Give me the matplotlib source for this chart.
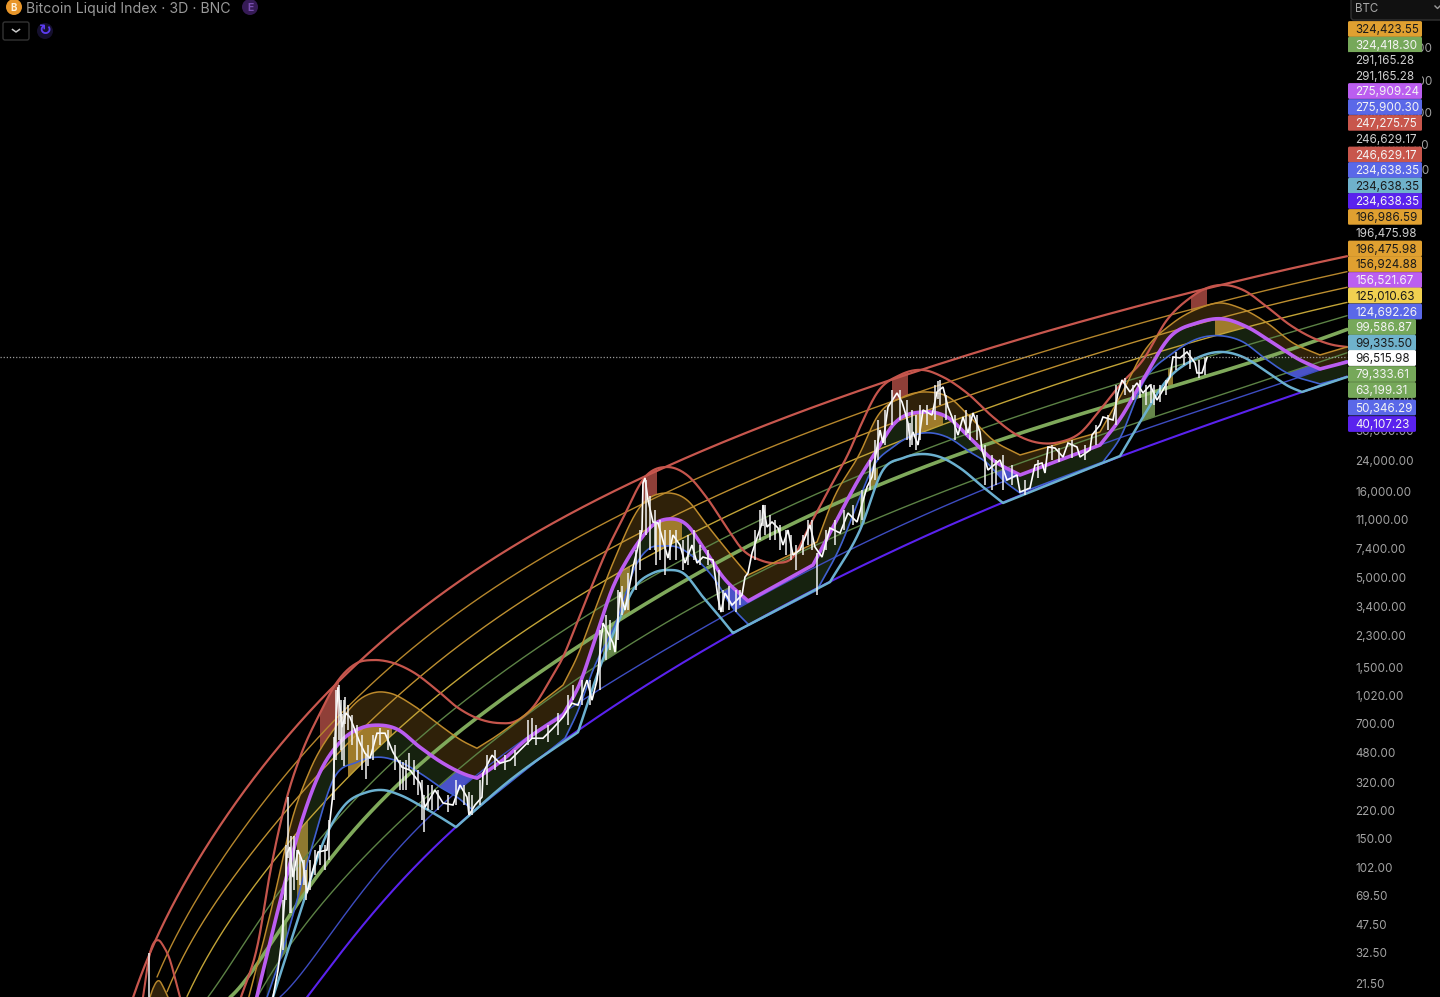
import numpy as np
import matplotlib
matplotlib.use("Agg")
import matplotlib.pyplot as plt
from matplotlib.patches import FancyBboxPatch, Circle
from matplotlib.ticker import NullLocator

plt.rcParams['font.family'] = ['Inter', 'DejaVu Sans']

# ---------- data: x is bar index on the chart, y is price ----------
top_x = [133,152,190,225,260,300,337,380,450,500,560,647,703,780,860,950,1020,1100,1197,1287,1347]
top_p = [17.8,33.5,98.2,192.5,366,708,1229,2163,4410,6690,10857,19350,27820,41640,63170,93300,125400,166400,229700,313000,382900]
or1_x = [157,185,213,253,300,357,420,450,500,560,612,700,780,860,950,1017,1100,1200,1280,1347]
or1_p = [23.3,50.1,98.2,192.5,448,1004,2163,2946,4410,7351,10857,19350,31400,46370,68480,93300,130600,187800,252400,304700]
or2_x = [167,195,230,280,300,350,450,500,560,647,700,780,860,950,1080,1200,1280,1347]
or2_p = [19.05,41,85.8,192.5,259,578,1941,2946,4780,9491,13280,22430,34960,53050,93300,149400,203600,249000]
yel_x = [187,230,285,367,450,490,550,650,700,780,860,950,1040,1120,1200,1280,1347]
yel_p = [17.8,52.2,125.2,448,1262,1767,2907,6512,9491,16252,26010,41640,62330,87240,117300,166400,203600]
gr1_x = [208,257,285,340,400,450,500,560,650,700,780,860,950,1040,1120,1200,1280,1347]
gr1_p = [17.8,48.1,80.2,205.9,448,843,1388,2313,4845,7450,12420,19880,31820,47630,68480,93300,134200,166400]
thk_x = [230,280,320,345,400,450,500,560,650,700,780,860,950,1040,1120,1200,1280,1347]
thk_p = [17.8,43.8,94.3,147,329,563,938,1653,3703,5543,9491,15610,24980,37390,52340,73240,108100,136000]
low_x = [257,280,320,377,440,500,613,650,700,780,860,950,1000,1103,1200,1280,1347]
low_p = [17.8,29.3,59,147,308,563,1815,2408,3703,5928,10010,16690,20700,34960,52340,78340,101100]
blu_x = [280,320,407,480,593,650,710,780,860,937,1000,1100,1200,1300,1347]
blu_p = [17.8,34.4,147,366,1059,1721,2646,4410,7757,12420,18590,29750,46370,74230,93300]
pur_x = [307,320,380,442,510,580,650,710,733,830,860,983,1003,1120,1300,1347]
pur_p = [17.8,22.4,61.4,147,329,644,1213,1994,2376,4717,5771,12420,13650,25320,60680,74230]

hump_red_x = [143,150,158,164,170,175,180]
hump_red_p = [17.8,32.2,38.3,34.9,29.3,23.0,17.8]
hump_org_x = [150,153,159,164,168]
hump_org_p = [17.8,20.0,22.2,20.0,17.8]

wred_x = [240,258,270,287,300,320,337,357,373,390,413,437,457,477,500,513,533,550,563,578,593,607,622,645,667,687,707,727,743,760,777,793,810,827,850,860,877,900,923,943,967,993,1017,1040,1060,1080,1100,1120,1143,1167,1190,1207,1223,1243,1267,1290,1313,1333,1347]
wred_p = [17.1,36.8,94.3,262,448,810,1229,1588,1653,1609,1407,1103,878,757,708,717,878,1262,1721,2830,4654,7253,10857,19350,22130,19880,14590,9749,7253,6340,6090,6600,10150,15610,27820,37900,59870,76260,81560,74230,59870,43350,34030,30560,30980,34960,47630,66670,93300,159800,214800,245700,255800,239200,190300,149400,125400,114200,111100]
worg_x = [248,263,277,290,310,337,363,377,390,413,437,463,477,490,563,577,593,613,640,667,687,707,727,748,817,833,860,877,903,927,950,970,993,1020,1100,1120,1143,1173,1200,1220,1240,1267,1293,1320,1347]
worg_p = [17.1,36.8,80.2,175,376,689,1004,1074,1059,901,708,555,505,563,1180,1721,3027,6090,12930,15610,14207,10150,7253,5182,8077,14207,26720,43350,56730,60680,55970,43350,31820,26010,35440,56730,102500,153500,187800,200800,187800,153500,117300,99770,111100]
worg_k = [477,563,748,817,1020,1100,1320]
wpur_x = [256,283,303,320,340,363,377,397,420,443,467,477,500,528,563,580,597,613,627,640,653,668,687,703,723,748,813,830,860,877,893,923,947,970,993,1020,1100,1120,1143,1170,1197,1223,1247,1273,1300,1320,1347]
wpur_p = [17.1,75,200.4,366,548,670,689,653,512,413,352,338,419,578,788,1213,2376,4410,6340,8297,10150,11000,10150,7551,5044,3654,5928,9116,19350,27820,38930,46370,43350,32690,24320,19880,29750,42200,71300,127100,153500,162000,145400,117300,93300,82660,90830]
wpur_k = [477,563,748,813,1020,1100,1320]
wblu_x = [266,283,297,313,333,357,380,400,423,440,457,474,565,577,593,617,637,650,663,677,697,713,733,749,817,840,860,873,893,923,947,970,987,1003,1020,1103,1120,1143,1173,1200,1223,1243,1263,1287,1320,1347]
wblu_p = [17.1,33.5,65.6,141,329,419,448,419,352,300,262,217,578,810,1445,2830,6090,7450,7654,7551,6340,5044,3325,2646,4236,7551,14790,22130,28960,34960,33130,27080,23360,18590,15610,23680,32690,68480,102500,125400,128800,118900,97130,78340,67570,74230]
wblu_k = [474,565,749,817,1020,1103,1320]
wcya_x = [272,300,325,343,367,383,400,423,440,456,510,578,600,620,633,653,668,683,703,720,733,830,860,883,903,923,940,960,983,1003,1120,1143,1167,1193,1223,1243,1267,1290,1302,1347]
wcya_p = [17.1,55.1,151,229,280,288,269.5,229,200.4,175,329,627,1504,2907,4236,5324,5543,5324,3855,2946,2376,4717,9491,21260,24980,26360,25320,21840,16920,13650,25660,43350,71300,93300,103900,97130,79400,64890,60680,74230]
wcya_k = [456,578,733,830,1003,1120,1302]

price_x = [273,278,282,285,287,290,293,298,303,307,312,318,327,330,333,335,338,342,346,350,355,360,365,370,377,385,393,402,410,420,425,435,443,453,460,467,469,475,482,483,492,500,510,525,532,543,553,563,572,578,587,592,597,603,613,615,620,625,633,642,643,645,648,653,658,662,668,673,680,685,692,697,703,713,716,718,721,725,732,742,745,748,752,757,762,763,767,772,778,783,788,793,800,810,815,822,830,840,848,857,867,872,880,883,888,897,902,905,908,910,913,918,923,932,937,943,948,952,958,963,968,973,980,982,988,1000,1007,1017,1020,1030,1035,1042,1045,1048,1055,1063,1068,1077,1080,1090,1092,1100,1103,1113,1118,1122,1130,1137,1143,1150,1157,1163,1170,1173,1180,1187,1195,1197,1202,1207]
price_c = [17.8,25.6,39.9,72,123.5,133.9,89.3,128.6,108,72,94.3,125.2,128.6,192.5,276.6,586,1148,670,810,767,644,541,472.6,441.7,618.6,618.6,479,391.5,376,316,229,288,242,235.6,308,262,205.9,235.6,262,361,460,413,430,526,578,578,661,767,926,901,1262,964,1262,2718,2078,1840,4124,3237,5771,9491,17850,19100,14207,10570,10430,8638,6512,8874,7757,6090,7757,6090,6600,6340,4654,3804,3151,4069,3462,3961,5044,5324,6967,8523,10430,13280,9881,10570,9749,7757,9491,6781,7253,10150,7551,6600,9749,9116,11930,10570,16920,19350,36400,30560,49590,59870,53050,46370,40000,31820,35440,29750,47630,44530,60680,64890,49590,43350,34030,43350,34960,45750,35440,27820,21260,24320,18590,19880,15820,16690,22740,23360,20420,28960,28570,25320,30560,28960,25320,27820,34030,38930,43350,41640,59870,71300,60680,68480,59870,66670,54490,62330,74230,97130,95900,103900,89620,78340,78340,96516]
wick_x  = [149,288,290,342,345,366,403,409,424,469,532,573,656,763,817,1151,910,938,
           283,286,291,294,297,300,304,306,310,315,320,325,329,334,336,339,341,344,348,352,357,362,368,373,380,388,395,400,406,414,418,422,428,432,438,448,456,464,472,480,487,495,505,515,528,536,548,558,568,582,590,600,606,610,618,622,628,636,640,646,650,655,660,665,670,676,683,688,694,700,708,719,723,729,736,740,755,760,765,770,775,780,786,791,796,803,808,812,826,835,844,853,862,870,875,878,885,892,900,907,912,916,920,927,935,940,946,955,966,970,977,985,992,996,1003,1012,1025,1038,1052,1059,1072,1085,1096,1108,1116,1125,1133,1140,1146,1154,1160,1166,1176,1184,1190,1199,1205]
wick_lo = [17,115,55,430,700,336,288,380,163,206,578,960,5928,10000,3961,52340,29000,55000,
           33.5,65.6,55,75,85.8,80,80,65.6,75,92,105,98,112,252,430,563,492,400,644,526,430,376,400,430,526,492,376,288,288,308,270,192,220,220,220,215,236,236,206,236,308,376,376,400,526,526,548,600,689,901,901,1103,1653,1890,2163,3027,3237,4236,5543,8900,7253,7253,6340,5182,6340,6340,5543,5928,6340,5928,5928,3237,3151,3237,3151,3462,6340,8297,8900,8297,8297,7253,6780,6340,5543,6780,7757,7253,7253,7757,9491,10150,10857,16252,18590,24320,29750,38930,41640,31820,29750,27820,31820,38930,41640,50970,41640,31820,34030,31820,31820,17380,16250,17380,16250,17380,15200,19100,24320,23680,24980,24320,29750,36400,38930,58250,54490,55970,50970,50970,53000,58250,81560,87240,83000,73240,76260]
wick_hi = [32.2,262,130,800,1004,470,420,472,270,280,757,1180,10500,13280,7000,68000,40000,70000,
           65.6,137,156,156,128.6,118,112,98,112,128.6,138,138,192,590,1100,1180,964,964,900,790,689,600,526,600,660,644,526,430,430,430,376,329,308,308,288,269,329,308,269,329,460,492,460,492,737,689,689,810,1030,1262,1262,2474,3027,2830,4236,4500,5300,7253,9491,18590,15000,12420,10857,9491,9491,9491,8297,8874,9491,7757,7253,5543,4236,4500,4236,4236,9491,12420,13280,11600,10857,10150,9491,8874,7757,8874,10857,10857,9491,10857,12420,13280,16252,24320,31820,41640,47630,62330,62330,54490,47630,44530,50970,50970,66670,71300,58250,44530,47630,44530,44530,29750,25990,24320,25990,22740,18590,24320,29750,28570,31820,29750,38930,44530,66670,73000,66670,71300,66670,66670,66670,71300,103900,110000,106700,93300,95800]

tick_vals = [21.5,32.5,47.5,69.5,102,150,220,320,480,700,1020,1500,2300,3400,5000,7400,11000,16000,24000,36000,54000,1200000,1700000,2600000,4000000,6200000]
tick_text = ["21.50","32.50","47.50","69.50","102.00","150.00","220.00","320.00","480.00","700.00","1,020.00","1,500.00","2,300.00","3,400.00","5,000.00","7,400.00","11,000.00","16,000.00","24,000.00","36,000.00","54,000.00","1,200,000.00","1,700,000.00","2,600,000.00","4,000,000.00","6,200,000.00"]
last_price = 96515.98

label_text = ["324,423.55","324,418.30","291,165.28","291,165.28","275,909.24","275,900.30","247,275.75","246,629.17","246,629.17","234,638.35","234,638.35","234,638.35","196,986.59","196,475.98","196,475.98","156,924.88","156,521.67","125,010.63","124,692.26","99,586.87","99,335.50","96,515.98","79,333.61","63,199.31","50,346.29","40,107.23"]
ORG,GRN,BLK,PUR,BLU,RED,CYA,VIO,YEL,WHT = "#e0a030","#76a85a","#000000","#bb5ef0","#5a68e8","#c8564c","#6fb2cc","#5a22ee","#f0d050","#ffffff"
label_color = [ORG,GRN,BLK,BLK,PUR,BLU,RED,BLK,RED,BLU,CYA,VIO,ORG,BLK,ORG,ORG,PUR,YEL,BLU,GRN,CYA,WHT,GRN,GRN,BLU,VIO]
label_y = [29,44.7,60,75.8,91,107,123,138.7,154.5,170,185.7,201,217,232.7,248.5,264,280,295.5,311.5,327,342.7,358,374,390,407.5,424]
dark_text = {ORG,CYA,YEL,WHT}

# ---------- rendering helpers ----------
GRID = np.arange(0, 1348)

def curve(xs, ps, kinks=()):
    xs = np.asarray(xs, float)
    ly = np.log10(np.asarray(ps, float))
    out = np.full(GRID.shape, np.nan)
    cuts = [0] + [int(np.where(xs == k)[0][0]) for k in kinks] + [len(xs) - 1]
    for a, b in zip(cuts[:-1], cuts[1:]):
        x, y = xs[a:b + 1], ly[a:b + 1]
        if len(x) == 2:
            m = np.full(2, (y[1] - y[0]) / (x[1] - x[0]))
        else:
            m = np.gradient(y, x)
        for i in range(len(x) - 1):
            sel = (GRID >= x[i]) & (GRID <= x[i + 1])
            h = x[i + 1] - x[i]
            t = (GRID[sel] - x[i]) / h
            out[sel] = ((2*t**3 - 3*t**2 + 1)*y[i] + (t**3 - 2*t**2 + t)*h*m[i]
                        + (-2*t**3 + 3*t**2)*y[i+1] + (t**3 - t**2)*h*m[i+1])
    return 10 ** out

def fitted(xs, ps, deg=6):
    """Draw a smooth trend through the read points of a band line."""
    xs = np.asarray(xs, float)
    t = np.log(xs)
    c = np.polynomial.chebyshev.Chebyshev.fit(t, np.log10(np.asarray(ps, float)), deg)
    out = np.full(GRID.shape, np.nan)
    sel = (GRID >= xs[0]) & (GRID <= xs[-1])
    out[sel] = 10 ** c(np.log(GRID[sel].astype(float)))
    return out

top, or1, or2 = fitted(top_x, top_p), fitted(or1_x, or1_p), fitted(or2_x, or2_p)
yel, gr1, thk = fitted(yel_x, yel_p), fitted(gr1_x, gr1_p), fitted(thk_x, thk_p)
low, blu, pur = fitted(low_x, low_p), fitted(blu_x, blu_p), fitted(pur_x, pur_p)
wred, worg = curve(wred_x, wred_p), curve(worg_x, worg_p, worg_k)
wpur, wblu = curve(wpur_x, wpur_p, wpur_k), curve(wblu_x, wblu_p, wblu_k)
wcya = curve(wcya_x, wcya_p, wcya_k)
hred, horg = curve(hump_red_x, hump_red_p), curve(hump_org_x, hump_org_p)

fig = plt.figure(figsize=(14.40, 9.97), dpi=100, facecolor="black")
ax = fig.add_axes([0, 0, 1, 1], facecolor="black")
ax.set_yscale("log")
ax.set_xlim(0, 1440)
ax.set_ylim(17.84, 11780000)
for s in ax.spines.values():
    s.set_visible(False)
ax.set_xticks([])
ax.set_yticks(tick_vals)
ax.set_yticklabels(tick_text)
ax.yaxis.set_minor_locator(NullLocator())
ax.yaxis.tick_right()
ax.tick_params(axis="y", which="both", length=0, pad=-61.2, labelsize=8.4, labelcolor="#a2a2a2")

def band(a, b, color, ranges=None, z=1.0):
    w = ~np.isnan(a) & ~np.isnan(b)
    if ranges is not None:
        m = np.zeros_like(w)
        for lo, hi in ranges:
            m |= (GRID >= lo) & (GRID <= hi)
        w &= m
    ax.fill_between(GRID, a, b, where=w, color=color, lw=0, zorder=z)

band(worg, wpur, "#2f2109", z=1.0)
band(wpur, wblu, "#16220f", z=1.0)
band(horg, np.full(GRID.shape, 17.0), "#2f2109", z=1.0)
band(wred, worg, "#8f3f38", [(320,339),(642,657),(892,908),(1191,1207)], z=1.2)
band(wpur, np.where(wpur > yel, yel, wpur), "#9f7b2b", [(348,392),(655,682),(915,943),(1215,1248)], z=1.2)
band(yel, thk, "#8f7a30", [(297,308),(620,630)], z=1.2)
band(gr1, thk, "#8f7a30", [(870,878),(1168,1173)], z=1.2)
band(thk, low, "#66864a", [(280,287),(603,617),(860,865),(1142,1155)], z=1.2)
upper = np.fmin(wpur, low)
lower = np.fmax(wblu, blu)
band(upper, np.where(upper > lower, lower, upper), "#4a52c8", [(437,477),(723,748),(990,1020),(1287,1320)], z=1.2)

def line(a, color, lw):
    ax.plot(GRID, a, color=color, lw=lw, zorder=2, solid_capstyle="round")

line(top, "#c8574e", 1.6)
line(or1, "#b5862c", 1.0)
line(or2, "#bd8f30", 1.0)
line(yel, "#c2a437", 1.0)
line(gr1, "#5c8245", 1.0)
line(thk, "#7fa95b", 2.6)
line(low, "#5c8245", 1.0)
line(blu, "#3d4cc0", 1.0)
line(pur, "#5a22ee", 1.5)
line(hred, "#c5554c", 1.5)
line(horg, "#b5862c", 1.1)
line(wred, "#c5554c", 1.6)
line(worg, "#bd8a2c", 1.1)
line(wblu, "#3f5fd0", 1.2)
line(wcya, "#6bb0cf", 1.8)
line(wpur, "#bb5df0", 2.6)

ax.plot(price_x, price_c, color="white", lw=1.2, zorder=3, solid_joinstyle="miter")
ax.vlines(wick_x, wick_lo, wick_hi, color="#f2f2f2", lw=1.1, zorder=3)
ax.plot([0, 1347], [last_price, last_price], color="#9a9a9a", lw=0.9, ls=(0, (1, 1.5)), zorder=2.5)

# ---------- panel chrome ----------
ov = fig.add_axes([0, 0, 1, 1], facecolor="none")
ov.set_xlim(0, 1440)
ov.set_ylim(997, 0)
ov.axis("off")

for txt, col, yc in zip(label_text, label_color, label_y):
    wide = len(txt) > 9
    w = 74 if wide else 68
    ov.add_patch(FancyBboxPatch((1348, yc - 7.9), w, 15.8, boxstyle="round,pad=0,rounding_size=1.5",
                                fc=col, ec="none", zorder=5))
    tc = "#1a1a1a" if col in dark_text else ("#cfcfcf" if col == BLK else "#f4f4f4")
    ov.text(1355.5, yc + 1.2, txt, color=tc, fontsize=8.4, va="center", ha="left", zorder=6)

ov.add_patch(FancyBboxPatch((1351, -6), 95, 26, boxstyle="round,pad=0,rounding_size=3",
                            fc="#111111", ec="#333333", lw=1, zorder=7))
ov.text(1355, 8.5, "BTC", color="#a8a8a8", fontsize=8.3, va="center", ha="left", zorder=8)
ov.plot([1435, 1437.5, 1440], [6, 8.5, 6], color="#9a9a9a", lw=1, zorder=8)

ov.add_patch(Circle((14, 7), 8, fc="#e8962a", ec="none", zorder=6))
ov.text(14, 8, "B", color="#fff3dd", fontsize=7, fontweight="bold", ha="center", va="center", zorder=7)
ov.text(26, 8.5, "Bitcoin Liquid Index · 3D · BNC", color="#9a9a9a", fontsize=10.15, va="center", ha="left", zorder=6)
ov.add_patch(Circle((250, 7), 8, fc="#361b56", ec="none", zorder=6))
ov.text(250, 8, "E", color="#7a4fb0", fontsize=7.5, fontweight="bold", ha="center", va="center", zorder=7)
ov.add_patch(FancyBboxPatch((3, 22), 26, 18, boxstyle="round,pad=0,rounding_size=2",
                            fc="black", ec="#333333", lw=1, zorder=6))
ov.plot([12.5, 16, 19.5], [29.5, 32, 29.5], color="#c8c8c8", lw=1.1, zorder=7)
ov.add_patch(Circle((45, 31), 8, fc="#15102e", ec="none", zorder=6))
ov.text(45, 31, "↻", color="#5c3cf0", fontsize=11, ha="center", va="center", fontweight="bold",
        family="DejaVu Sans", zorder=7)

fig.savefig("out.png", dpi=100, facecolor="black")
